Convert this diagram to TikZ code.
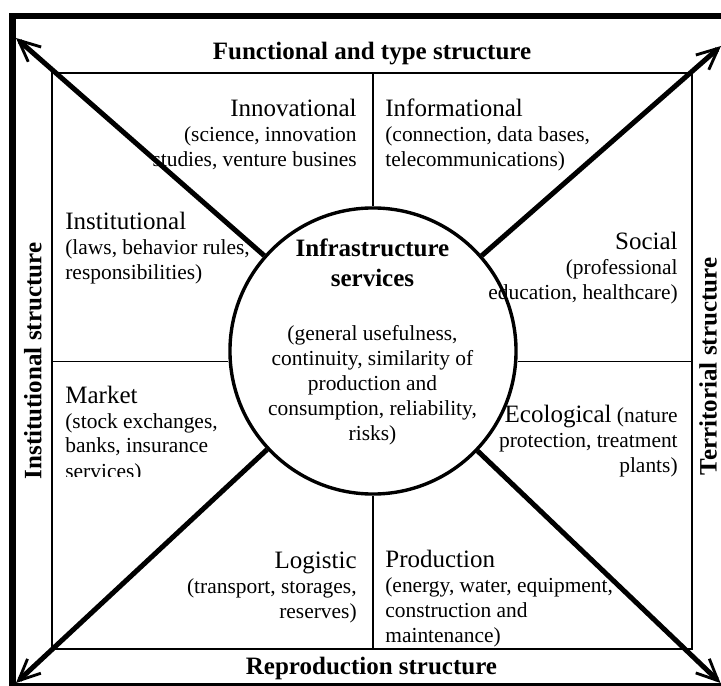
\documentclass[tikz,border=0pt]{standalone}
\usepackage{fontspec}
\setmainfont{Liberation Serif}
\usetikzlibrary{arrows.meta}
\newcommand{\kind}[1]{{\fontsize{14}{14}\selectfont #1}}
\begin{document}
\begin{tikzpicture}[x=0.56pt,y=-0.56pt,
    frame/.style={line width=3.7pt},
    grid/.style={line width=0.8pt},
    ray/.style={line width=2.8pt,-{Straight Barb[length=12pt,width=11pt,line width=1.6pt]}},
    head/.style={font=\fontsize{14}{16}\selectfont\bfseries,inner sep=0pt,anchor=base},
    body/.style={font=\fontsize{12}{14}\selectfont,inner sep=0pt}]
  \fill[white] (0,0) rectangle (721,686);
  \useasboundingbox (0,0) rectangle (721,686);
  % frames
  \draw[frame] (12.7,16) rectangle (724.5,686.5);
  \draw[grid] (52,73) rectangle (692,649);
  \node[circle,draw,line width=1.9pt,minimum size=160.2pt,inner sep=0pt] (core) at (373,351) {};
  \coordinate (tm) at (373,73);
  \coordinate (bm) at (373,649);
  \coordinate (lm) at (52,361.7);
  \coordinate (rm) at (692,361.7);
  \draw[grid] (tm) -- (core);
  \draw[grid] (bm) -- (core);
  \draw[grid] (lm) -- (lm -| core.west);
  \draw[grid] (rm) -- (rm -| core.east);
  % arrows
  \coordinate (tl) at (16,38);
  \coordinate (tr) at (721,46);
  \coordinate (bl) at (16,683);
  \coordinate (br) at (720.5,683);
  \foreach \t in {tl,tr,bl,br}
    \draw[ray] (core) -- (\t);
  % structure labels
  \node[head] (func) at (372,59.5) {Functional and type structure};
  \node[head] (repr) at (371.5,674) {Reproduction structure};
  \node[head,rotate=90] (inst) at (41.5,361) {Institutional structure};
  \node[head,rotate=90] (terr) at (716.5,366.5) {Territorial structure};
  % sectors (base = last line)
  \node[body,align=left,anchor=base west] (institut) at (65,280)
    {\kind{Institutional}\\(laws, behavior rules,\\responsibilities)};
  \begin{scope}
    \clip (52,73) rectangle (372,476.5);
    \node[body,align=left,anchor=base west] (market) at (65,478)
      {\kind{Market}\\(stock exchanges,\\banks, insurance\\services)};
  \end{scope}
  \node[body,align=right,anchor=base east] (innov) at (357,166.7)
    {\kind{Innovational}\\(science, innovation\\studies, venture busines};
  \node[body,align=left,anchor=base west] (inform) at (385,167)
    {\kind{Informational}\\(connection, data bases,\\telecommunications)};
  \node[body,align=right,anchor=base east] (social) at (678,300)
    {\kind{Social}\\(professional\\education, healthcare)};
  \node[body,align=right,anchor=base east] (ecol) at (678,472)
    {\kind{Ecological} (nature\\protection, treatment\\plants)};
  \node[body,align=right,anchor=base east] (logist) at (357,618)
    {\kind{Logistic}\\(transport, storages,\\reserves)};
  \node[body,align=left,anchor=base west] (product) at (385,642)
    {\kind{Production}\\(energy, water, equipment,\\construction and\\maintenance)};
  % centre
  \node[head,align=center,font=\fontsize{14}{16.8}\selectfont\bfseries] (infra) at (372.5,286.7)
    {Infrastructure\\services};
  \node[body,align=center,anchor=base] (props) at (372.5,441)
    {(general usefulness,\\continuity, similarity of\\production and\\consumption, reliability,\\risks)};
\end{tikzpicture}
\end{document}
